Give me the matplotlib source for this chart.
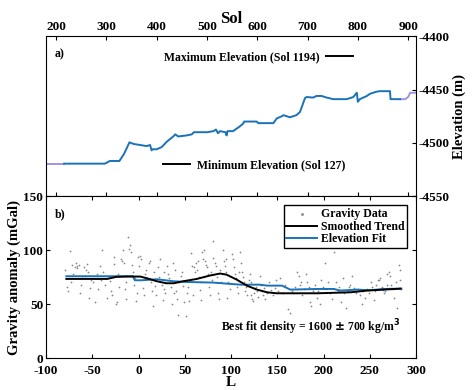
import numpy as np
import matplotlib
matplotlib.use('Agg')
import matplotlib.pyplot as plt
from matplotlib.lines import Line2D

plt.rcParams['font.family'] = 'Liberation Serif'
plt.rcParams['font.weight'] = 'bold'
plt.rcParams['axes.unicode_minus'] = False

# ---- panel a: elevation along traverse (Sol) ----
sol = [216, 297, 307, 326, 335, 346, 354, 367, 380, 387, 390, 392, 400, 410, 420,
       433, 437, 443, 460, 470, 474, 500, 513, 518, 522, 526, 537, 539, 541, 552,
       564, 572, 574, 599, 602, 632, 639, 649, 652, 665, 678, 685, 695, 698, 711,
       718, 728, 738, 751, 778, 791, 798, 800, 804, 818, 824, 837, 844, 864, 865, 884]
elev = [-4519.5, -4519.5, -4517, -4517, -4510.5, -4499.5, -4501, -4502, -4503, -4502,
        -4507, -4506, -4506, -4504, -4499, -4494, -4492, -4494, -4493, -4492, -4490,
        -4490, -4489, -4487.5, -4491, -4489, -4490, -4493, -4489, -4489, -4485, -4482,
        -4480, -4480, -4481.5, -4481.5, -4477, -4475, -4474, -4476, -4474, -4471,
        -4458, -4457, -4457.5, -4456, -4456, -4457.5, -4459, -4459, -4457, -4453,
        -4461.5, -4459, -4456, -4454, -4452, -4451.5, -4451.5, -4459, -4459]
sol_ext_left = [180, 216]
elev_ext_left = [-4519.5, -4519.5]
sol_ext_right = [884, 894, 900, 904, 916]
elev_ext_right = [-4459, -4459, -4457, -4453, -4453]

# ---- panel b: gravity anomaly vs L ----
grav_L = [
    -79, -77, -76, -74, -73, -72, -71,
    -69, -67, -66, -64, -63, -62, -61, -68,
    -59, -57, -56, -55, -54, -52, -51, -58,
    -49, -47, -45, -44, -42, -41,
    -39, -38, -36, -34, -33, -31, -30,
    -29, -27, -26, -24, -23, -22, -21,
    -19, -18, -17, -16, -15, -13, -12, -11, -14,
    -9, -8, -7, -6, -5, -4, -3, -2, -1, -10,
    1, 2, 3, 5, 6, 7, 8, 9,
    11, 12, 13, 15, 16, 17, 18, 19,
    21, 22, 23, 25, 26, 27, 28, 29,
    31, 32, 33, 35, 36, 37, 38, 39,
    41, 42, 43, 44, 46, 47, 48, 49,
    51, 52, 53, 54, 56, 57, 58, 59,
    60, 61, 62, 63, 64, 65, 66, 67, 68, 69,
    70, 71, 72, 73, 74, 75, 76, 77, 78, 79,
    80, 81, 83, 84, 85, 86, 87, 88, 89,
    91, 92, 93, 94, 95, 96, 97, 99,
    101, 102, 103, 104, 105, 106, 107, 109,
    110, 111, 112, 113, 114, 115, 116, 117, 119,
    120, 121, 122, 123, 124, 125, 126, 127, 128, 129,
    131, 132, 133, 135, 136, 137, 139,
    141, 143, 145, 147, 149,
    151, 153, 156, 158,
    162, 164, 166, 167, 169,
    171, 173, 174, 176, 177, 179,
    181, 182, 184, 185, 186, 188, 189,
    191, 193, 194, 196, 197, 199,
    201, 203, 205, 207, 209,
    211, 213, 215, 217, 219,
    221, 222, 224, 226, 227, 229,
    231, 233, 235, 237, 239,
    241, 243, 245, 247, 249,
    251, 252, 254, 256, 257, 259,
    260, 261, 263, 264, 265, 266, 268, 269,
    271, 272, 273, 275, 276, 278, 279,
    281, 282, 283, 284]
grav_mgal = [
    82, 66, 62, 99, 70, 86, 78,
    84, 85, 83, 86, 60, 68, 74, 88,
    84, 82, 87, 80, 56, 65, 72, 76,
    70, 52, 78, 64, 85, 72,
    100, 80, 68, 56, 74, 71, 62,
    58, 87, 94, 50, 52, 78, 66,
    92, 90, 100, 88, 64, 55, 76, 112, 70,
    105, 98, 86, 80, 68, 74, 53, 60, 94, 101,
    85, 95, 92, 65, 58, 78, 82, 74,
    88, 90, 70, 62, 48, 80, 67, 58,
    84, 75, 92, 68, 54, 64, 80, 60,
    85, 78, 74, 66, 50, 88, 60, 82,
    62, 55, 40, 70, 76, 80, 67, 52,
    39, 60, 66, 53, 72, 97, 85, 58,
    84, 80, 88, 82, 90, 75, 63, 54, 70, 98,
    92, 100, 90, 86, 84, 78, 66, 58, 80, 72,
    108, 93, 88, 85, 75, 60, 55, 82, 70,
    100, 90, 85, 92, 80, 56, 70, 64,
    96, 92, 84, 78, 74, 66, 60, 80,
    98, 88, 80, 75, 70, 62, 66, 58, 72,
    78, 70, 58, 55, 53, 60, 64, 66, 62, 57,
    76, 68, 62, 58, 65, 55, 60,
    70, 63, 58, 65, 72,
    62, 74, 60, 68,
    45, 42, 62, 60, 66,
    80, 76, 68, 70, 58, 64,
    78, 70, 66, 52, 48, 64, 62,
    68, 56, 62, 50, 72, 66,
    88, 64, 70, 60, 55,
    98, 70, 62, 66, 52,
    74, 60, 46, 62, 66, 68,
    76, 65, 60, 64, 58,
    50, 62, 56, 64, 60,
    70, 66, 54, 62, 68, 72,
    72, 74, 66, 63, 60, 62, 68, 78,
    80, 76, 68, 64, 56, 70, 46,
    86, 82, 72, 64]

trend_L = [-78, -34, -24, -13, 2, 9, 20, 30, 38, 48, 63, 77, 88, 95, 106, 117,
           128, 139, 149, 164, 193, 229, 247, 265, 283]
trend_mgal = [73.3, 73.3, 75.2, 75.5, 75.5, 73.9, 71.1, 69.3, 69.3, 71.1, 73.3, 76.4,
              78.3, 77.3, 72.7, 67.1, 63.4, 60.9, 60.0, 60.0, 60.0, 60.9, 62.5, 63.4, 64.3]

fit_L = [-78, -6, -4, 2, 20, 38, 52, 81, 99, 110, 131, 139, 155, 164, 193, 211,
         218, 236, 250, 265, 284]
fit_mgal = [75.8, 75.8, 72.1, 72.0, 73.0, 71.1, 70.5, 69.9, 68.7, 68.0, 68.0, 67.1,
            67.1, 63.4, 64.0, 64.0, 62.5, 63.4, 62.8, 64.0, 64.3]

blue = '#1a72b8'
purple = '#a094e0'

fig = plt.figure(figsize=(4.74, 3.9), dpi=100)
ax_a = fig.add_axes([0.097, 0.497, 0.781, 0.410])
ax_b = fig.add_axes([0.097, 0.082, 0.781, 0.415])

# # # # # panel a
ax_a.plot(sol_ext_left, elev_ext_left, color=purple, lw=1.4)
ax_a.plot(sol_ext_right, elev_ext_right, color=purple, lw=1.4)
ax_a.plot(sol, elev, color=blue, lw=1.4)
ax_a.set_xlim(180, 916)
ax_a.set_ylim(-4550, -4400)
ax_a.set_xticks(range(200, 901, 100))
ax_a.set_yticks([-4550, -4500, -4450, -4400])
ax_a.xaxis.tick_top()
ax_a.xaxis.set_label_position('top')
ax_a.yaxis.tick_right()
ax_a.yaxis.set_label_position('right')
ax_a.tick_params(axis='x', which='both', top=True, bottom=True, direction='in',
                 length=3, labelsize=9.5, pad=2)
ax_a.tick_params(axis='y', direction='in', length=3, labelsize=9.5, pad=2)
ax_a.set_xlabel('Sol', fontsize=12, fontweight='bold', labelpad=-1)
ax_a.set_ylabel('Elevation (m)', fontsize=10.5, fontweight='bold', labelpad=2)
ax_a.text(0.024, 0.89, 'a)', transform=ax_a.transAxes, fontsize=8.5,
          fontweight='bold', va='center')

max_h = Line2D([], [], color='black', lw=1.4)
leg_max = ax_a.legend([max_h], ['Maximum Elevation (Sol 1194)'], loc='center',
                      bbox_to_anchor=(0.574, 0.869), frameon=False, markerfirst=False,
                      handlelength=2.3, handletextpad=0.6, borderaxespad=0,
                      borderpad=0, prop={'size': 8.5, 'weight': 'bold'})
ax_a.add_artist(leg_max)
ax_a.legend([max_h], ['Minimum Elevation (Sol 127)'], loc='center',
            bbox_to_anchor=(0.562, 0.194), frameon=False, handlelength=2.3,
            handletextpad=0.6, borderaxespad=0, borderpad=0,
            prop={'size': 8.5, 'weight': 'bold'})

# # # # # panel b
ax_b.scatter(grav_L, grav_mgal, s=1.6, color='#888888', linewidths=0,
             label='Gravity Data', zorder=1)
ax_b.plot(trend_L, trend_mgal, color='black', lw=1.4, label='Smoothed Trend', zorder=3)
ax_b.plot(fit_L, fit_mgal, color=blue, lw=1.4, label='Elevation Fit', zorder=2)
ax_b.set_xlim(-100, 300)
ax_b.set_ylim(0, 150)
ax_b.set_xticks(range(-100, 301, 50))
ax_b.set_yticks([0, 50, 100, 150])
ax_b.tick_params(direction='in', length=3, top=True, right=True, labelsize=9.5, pad=2)
ax_b.tick_params(axis='x', pad=5)
ax_b.set_xlabel('L', fontsize=11, fontweight='bold', labelpad=-1)
ax_b.set_ylabel('Gravity anomaly (mGal)', fontsize=10.5, fontweight='bold', labelpad=2)
ax_b.text(0.024, 0.889, 'b)', transform=ax_b.transAxes, fontsize=8.5,
          fontweight='bold', va='center')
ax_b.text(0.957, 0.19, r'Best fit density = 1600 $\pm$ 700 kg/m$^\mathbf{3}$',
          transform=ax_b.transAxes, fontsize=8.5, fontweight='bold',
          ha='right', va='center')
leg = ax_b.legend(loc='upper right', bbox_to_anchor=(0.976, 0.944), borderaxespad=0,
                  fancybox=False, edgecolor='black', framealpha=1, markerscale=1.6,
                  handlelength=2.6, handletextpad=0.3, labelspacing=0.05,
                  borderpad=0.25, prop={'size': 8.5, 'weight': 'bold'})
leg.get_frame().set_linewidth(1.0)

plt.savefig('out.png', dpi=100)
